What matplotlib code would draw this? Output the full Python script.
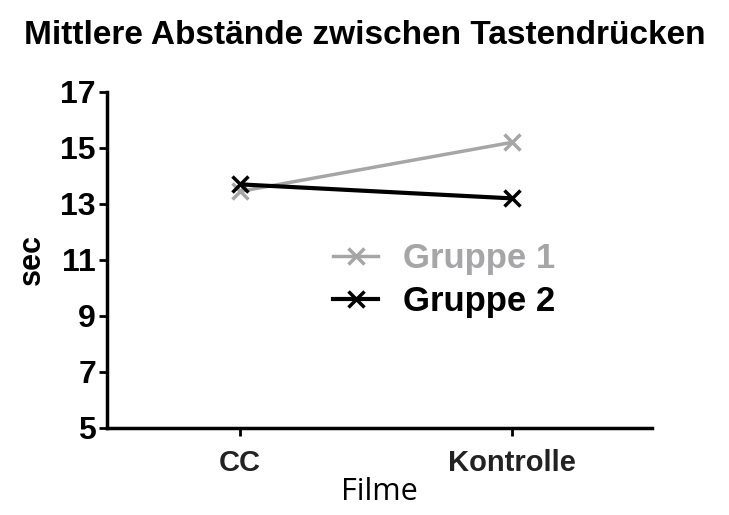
import matplotlib.pyplot as plt

filme = ["CC", "Kontrolle"]
gruppe1 = [13.45, 15.2]
gruppe2 = [13.7, 13.2]
yticks = [5, 7, 9, 11, 13, 15, 17]

plt.rcParams['font.family'] = ['Liberation Sans', 'DejaVu Sans']

fig = plt.figure(figsize=(7.29, 5.15), dpi=100)
ax = fig.add_axes([0.1468, 0.169, 0.894 - 0.1468, 0.8214 - 0.169])

x = list(range(len(filme)))
ax.plot(x, gruppe1, color='#a6a6a8', lw=2.5, marker='x', ms=11, mew=2.5, label='Gruppe 1')
ax.plot(x, gruppe2, color='black', lw=3, marker='x', ms=11, mew=2.5, label='Gruppe 2')

ax.set_xlim(-0.49, 1.515)
ax.set_ylim(5, 17)
ax.set_yticks(yticks)
ax.set_xticks(x)
ax.set_xticklabels(filme, fontsize=21, fontweight='bold', color='#222222')
ax.tick_params(axis='y', labelsize=23, width=2, length=6, pad=2)
for lab in ax.get_yticklabels():
    lab.set_fontweight('bold')
ax.tick_params(axis='x', width=2, length=6, pad=9)

for s in ['top', 'right']:
    ax.spines[s].set_visible(False)
for s in ['left', 'bottom']:
    ax.spines[s].set_linewidth(2.5)

ax.set_ylabel("sec", fontsize=22, fontweight='bold', labelpad=10)
ax.set_xlabel("Filme", fontsize=22, family=['Open Sans', 'DejaVu Sans'], labelpad=0)
fig.text(0.5, 0.932, "Mittlere Abstände zwischen Tastendrücken", ha='center', va='center',
         fontsize=24, fontweight='bold')

leg = ax.legend(loc='center left', bbox_to_anchor=(0.415, 0.44), frameon=False,
                handlelength=1.3, handletextpad=0.7, labelspacing=0.3,
                borderpad=0, borderaxespad=0,
                prop={'weight': 'bold', 'size': 25})
leg.get_texts()[0].set_color('#a6a6a8')

fig.savefig("out.png", dpi=100)
